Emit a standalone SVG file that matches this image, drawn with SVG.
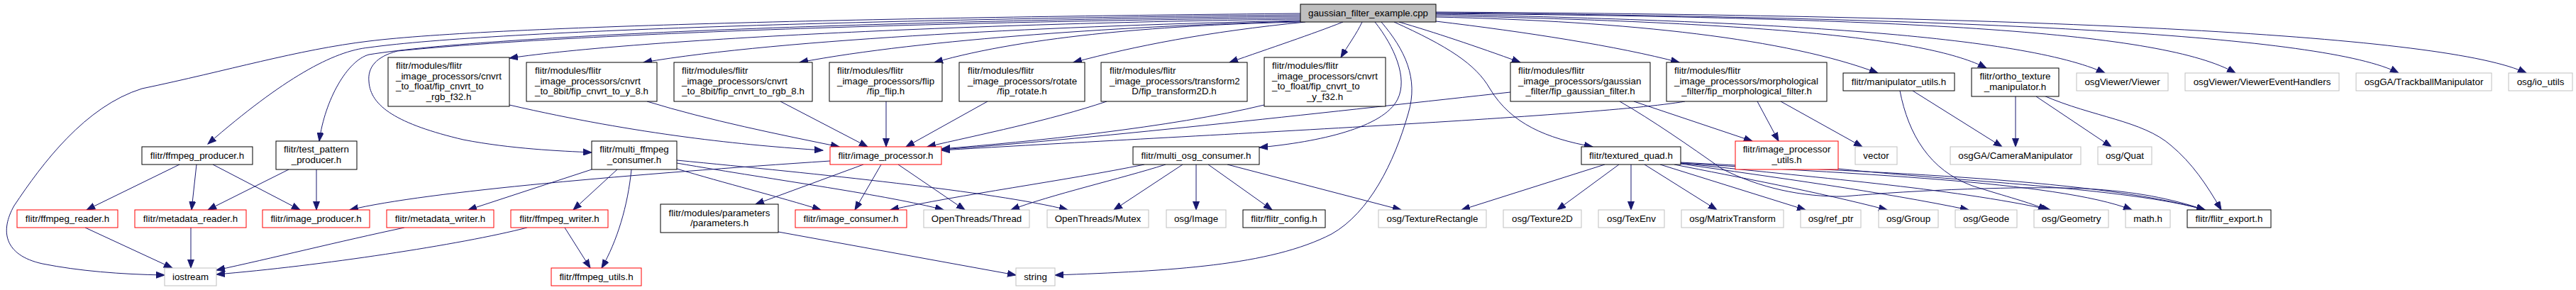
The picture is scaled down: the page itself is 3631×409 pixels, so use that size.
<svg xmlns="http://www.w3.org/2000/svg" width="3631" height="409" viewBox="0 0 3631 409">
<style>
rect{fill:#fff;stroke-width:1}
.doc{stroke:#000}
.red{stroke:#ff0000}
.ext{stroke:#bfbfbf}
.root{fill:#bfbfbf;stroke:#000}
text{font-family:"Liberation Sans",Arial,Helvetica,sans-serif;font-size:13.33px;fill:#000}
.c{text-anchor:middle}
.l{text-anchor:start}
#edges path{fill:none;stroke:#191970;stroke-width:1;marker-end:url(#arr)}
</style>
<defs>
<marker id="arr" markerUnits="userSpaceOnUse" markerWidth="13" markerHeight="10" refX="12" refY="5" orient="auto"><path d="M0,0.5 L12,5 L0,9.5 z" fill="#191970" stroke="#191970" stroke-width="1"/></marker>
</defs>
<rect x="0" y="0" width="3631" height="409" style="fill:#fff;stroke:none"/>
<g id="edges">
<path d="M1833,19 C1300,24 700,36 520,58 C420,70 320,100 200,125 C120,150 60,230 20,290 C0,325 5,360 60,372 C110,382 170,387 232,388"/>
<path d="M1833,21 C1300,26 700,42 520,67 C470,72 400,110 293,203"/>
<path d="M1833,23 C1300,28 700,48 520,77 C490,85 458,140 450,199"/>
<path d="M1833,25 C1300,31 800,48 560,72 C530,80 518,95 520,115 C522,150 560,175 653,197 C720,210 790,213 834,215"/>
<path d="M1833,27 C1400,32 900,55 718,82"/>
<path d="M1833,29 C1500,36 1100,55 907,88"/>
<path d="M1833,30 C1600,36 1300,55 1127,88"/>
<path d="M1833,31 C1650,35 1450,50 1317,88"/>
<path d="M1840,31 C1700,45 1600,65 1513,88"/>
<path d="M1893,31 C1850,48 1790,68 1733,88"/>
<path d="M1920,31 C1912,48 1900,64 1890,81"/>
<path d="M1938,31 C1965,65 1985,110 1970,140 C1950,180 1860,200 1775,208"/>
<path d="M1947,31 C1980,70 2000,110 1985,160 C1965,230 1930,300 1877,330 C1790,375 1650,382 1487,388"/>
<path d="M1965,31 C2040,65 2080,90 2100,125 C2130,175 2180,195 2245,207"/>
<path d="M1972,31 C2020,45 2080,65 2143,88"/>
<path d="M2024,30 C2150,45 2280,65 2367,88"/>
<path d="M2024,24 C2300,30 2520,55 2647,103"/>
<path d="M2024,22 C2500,32 2720,55 2800,96"/>
<path d="M2024,20 C2500,30 2850,50 2967,103"/>
<path d="M2024,19 C2700,25 3050,45 3151,103"/>
<path d="M2024,18 C2800,25 3280,50 3381,103"/>
<path d="M2024,17 C2900,22 3450,50 3561,103"/>
<path d="M253,232 L122,296"/>
<path d="M277,232 L270,296"/>
<path d="M300,232 L423,296"/>
<path d="M407,239 L293,296"/>
<path d="M446,239 L446,296"/>
<path d="M120,321 L243,378"/>
<path d="M269,321 L269,378"/>
<path d="M570,321 C480,340 380,365 305,381"/>
<path d="M743,321 C650,345 450,375 305,387"/>
<path d="M796,321 L832,378"/>
<path d="M834,239 L660,296"/>
<path d="M870,239 L808,296"/>
<path d="M890,239 C885,290 870,340 848,378"/>
<path d="M954,238 C1020,258 1100,278 1157,296"/>
<path d="M954,230 C1100,255 1250,275 1330,296"/>
<path d="M954,226 C1150,245 1400,270 1505,296"/>
<path d="M718,148 C900,190 1050,205 1160,212"/>
<path d="M912,143 C1000,170 1100,190 1183,207"/>
<path d="M1100,143 L1223,207"/>
<path d="M1249,143 L1249,207"/>
<path d="M1392,143 L1277,207"/>
<path d="M1560,143 C1480,170 1380,190 1307,207"/>
<path d="M1782,148 C1650,180 1450,200 1327,210"/>
<path d="M2129,130 C1900,155 1550,195 1327,211"/>
<path d="M2375,143 C2250,165 1600,195 1327,212"/>
<path d="M1170,227 C900,245 600,270 493,296"/>
<path d="M1217,232 L1065,288"/>
<path d="M1242,232 L1205,296"/>
<path d="M1266,232 L1360,296"/>
<path d="M1097,327 L1432,388"/>
<path d="M1613,232 C1500,255 1350,275 1255,296"/>
<path d="M1643,232 C1580,252 1480,275 1425,296"/>
<path d="M1667,232 L1570,296"/>
<path d="M1686,232 L1686,296"/>
<path d="M1703,232 L1793,296"/>
<path d="M1730,232 L1975,296"/>
<path d="M2262,232 L2060,296"/>
<path d="M2282,232 L2195,296"/>
<path d="M2299,232 L2299,296"/>
<path d="M2318,232 L2420,296"/>
<path d="M2340,232 L2545,296"/>
<path d="M2360,232 C2450,250 2560,270 2660,296"/>
<path d="M2369,231 C2500,250 2650,270 2775,296"/>
<path d="M2369,230 C2550,250 2750,265 2890,296"/>
<path d="M2369,230 C2600,245 2900,255 3005,296"/>
<path d="M2369,229 C2600,242 2950,250 3108,296"/>
<path d="M2591,238 C2750,255 3000,265 3108,296"/>
<path d="M2283,143 C2330,170 2380,205 2427,238 C2480,265 2540,278 2600,277 C2700,268 2850,262 2940,266 C3010,270 3060,280 3108,296"/>
<path d="M2303,143 L2470,199"/>
<path d="M2477,143 L2507,199"/>
<path d="M2510,143 L2625,207"/>
<path d="M2696,128 L2822,207"/>
<path d="M2678,128 C2690,190 2720,240 2780,262 C2830,278 2860,285 2885,296"/>
<path d="M2841,136 L2841,207"/>
<path d="M2870,136 L2976,207"/>
<path d="M2881,135 C2950,165 3020,170 3060,205 C3090,230 3110,260 3131,296"/>
</g>
<g id="node-root"><rect class="root" x="1833" y="6" width="191" height="25"/><text class="c" x="1928.5" y="22.5">gaussian_filter_example.cpp</text></g>
<g id="node-rgbf32"><rect class="doc" x="547" y="81" width="171" height="69"/><text class="l" x="558" y="97">flitr/modules/flitr</text><text class="l" x="558" y="111.5">_image_processors/cnvrt</text><text class="l" x="558" y="126">_to_float/fip_cnvrt_to</text><text class="c" x="632.5" y="140.5">_rgb_f32.h</text></g>
<g id="node-y8"><rect class="doc" x="742" y="88" width="184" height="55"/><text class="l" x="754" y="104">flitr/modules/flitr</text><text class="l" x="754" y="118.5">_image_processors/cnvrt</text><text class="c" x="834" y="133">_to_8bit/fip_cnvrt_to_y_8.h</text></g>
<g id="node-rgb8"><rect class="doc" x="950" y="88" width="195" height="55"/><text class="l" x="961" y="104">flitr/modules/flitr</text><text class="l" x="961" y="118.5">_image_processors/cnvrt</text><text class="c" x="1047.5" y="133">_to_8bit/fip_cnvrt_to_rgb_8.h</text></g>
<g id="node-flip"><rect class="doc" x="1169" y="88" width="159" height="55"/><text class="l" x="1180" y="104">flitr/modules/flitr</text><text class="l" x="1180" y="118.5">_image_processors/flip</text><text class="c" x="1248.5" y="133">/fip_flip.h</text></g>
<g id="node-rotate"><rect class="doc" x="1352" y="88" width="177" height="55"/><text class="l" x="1364" y="104">flitr/modules/flitr</text><text class="l" x="1364" y="118.5">_image_processors/rotate</text><text class="c" x="1440.5" y="133">/fip_rotate.h</text></g>
<g id="node-transform2d"><rect class="doc" x="1552" y="88" width="206" height="55"/><text class="l" x="1564" y="104">flitr/modules/flitr</text><text class="l" x="1564" y="118.5">_image_processors/transform2</text><text class="c" x="1655" y="133">D/fip_transform2D.h</text></g>
<g id="node-yf32"><rect class="doc" x="1782" y="81" width="171" height="69"/><text class="l" x="1793" y="97">flitr/modules/flitr</text><text class="l" x="1793" y="111.5">_image_processors/cnvrt</text><text class="l" x="1793" y="126">_to_float/fip_cnvrt_to</text><text class="c" x="1867.5" y="140.5">_y_f32.h</text></g>
<g id="node-gaussian"><rect class="doc" x="2129" y="88" width="197" height="55"/><text class="l" x="2140" y="104">flitr/modules/flitr</text><text class="l" x="2140" y="118.5">_image_processors/gaussian</text><text class="c" x="2227.5" y="133">_filter/fip_gaussian_filter.h</text></g>
<g id="node-morph"><rect class="doc" x="2349" y="88" width="226" height="55"/><text class="l" x="2360" y="104">flitr/modules/flitr</text><text class="l" x="2360" y="118.5">_image_processors/morphological</text><text class="c" x="2462" y="133">_filter/fip_morphological_filter.h</text></g>
<g id="node-manip"><rect class="doc" x="2598" y="103" width="157" height="25"/><text class="c" x="2676.5" y="119.5">flitr/manipulator_utils.h</text></g>
<g id="node-ortho"><rect class="doc" x="2779" y="96" width="123" height="40"/><text class="c" x="2840.5" y="112">flitr/ortho_texture</text><text class="c" x="2840.5" y="126.5">_manipulator.h</text></g>
<g id="node-viewer"><rect class="ext" x="2927" y="103" width="129" height="25"/><text class="c" x="2991.5" y="119.5">osgViewer/Viewer</text></g>
<g id="node-veh"><rect class="ext" x="3080" y="103" width="217" height="25"/><text class="c" x="3188.5" y="119.5">osgViewer/ViewerEventHandlers</text></g>
<g id="node-trackball"><rect class="ext" x="3321" y="103" width="191" height="25"/><text class="c" x="3416.5" y="119.5">osgGA/TrackballManipulator</text></g>
<g id="node-ioutils"><rect class="ext" x="3536" y="103" width="90" height="25"/><text class="c" x="3581" y="119.5">osg/io_utils</text></g>
<g id="node-ffprod"><rect class="doc" x="200" y="207" width="156" height="25"/><text class="c" x="278" y="223.5">flitr/ffmpeg_producer.h</text></g>
<g id="node-testpat"><rect class="doc" x="389" y="199" width="114" height="40"/><text class="c" x="446" y="215">flitr/test_pattern</text><text class="c" x="446" y="229.5">_producer.h</text></g>
<g id="node-mffc"><rect class="doc" x="834" y="199" width="120" height="40"/><text class="c" x="894" y="215">flitr/multi_ffmpeg</text><text class="c" x="894" y="229.5">_consumer.h</text></g>
<g id="node-improc"><rect class="red" x="1170" y="207" width="157" height="25"/><text class="c" x="1248.5" y="223.5">flitr/image_processor.h</text></g>
<g id="node-mosg"><rect class="doc" x="1597" y="207" width="178" height="25"/><text class="c" x="1686" y="223.5">flitr/multi_osg_consumer.h</text></g>
<g id="node-tquad"><rect class="doc" x="2229" y="207" width="140" height="25"/><text class="c" x="2299" y="223.5">flitr/textured_quad.h</text></g>
<g id="node-iputils"><rect class="red" x="2446" y="199" width="145" height="40"/><text class="c" x="2518.5" y="215">flitr/image_processor</text><text class="c" x="2518.5" y="229.5">_utils.h</text></g>
<g id="node-vector"><rect class="ext" x="2615" y="207" width="59" height="25"/><text class="c" x="2644.5" y="223.5">vector</text></g>
<g id="node-cammanip"><rect class="ext" x="2749" y="207" width="184" height="25"/><text class="c" x="2841" y="223.5">osgGA/CameraManipulator</text></g>
<g id="node-quat"><rect class="ext" x="2957" y="207" width="76" height="25"/><text class="c" x="2995" y="223.5">osg/Quat</text></g>
<g id="node-ffreader"><rect class="red" x="24" y="296" width="142" height="25"/><text class="c" x="95" y="312.5">flitr/ffmpeg_reader.h</text></g>
<g id="node-mdreader"><rect class="red" x="190" y="296" width="157" height="25"/><text class="c" x="268.5" y="312.5">flitr/metadata_reader.h</text></g>
<g id="node-improd"><rect class="red" x="370" y="296" width="151" height="25"/><text class="c" x="445.5" y="312.5">flitr/image_producer.h</text></g>
<g id="node-mdwriter"><rect class="red" x="545" y="296" width="151" height="25"/><text class="c" x="620.5" y="312.5">flitr/metadata_writer.h</text></g>
<g id="node-ffwriter"><rect class="red" x="720" y="296" width="137" height="25"/><text class="c" x="788.5" y="312.5">flitr/ffmpeg_writer.h</text></g>
<g id="node-params"><rect class="doc" x="931" y="288" width="166" height="40"/><text class="c" x="1014" y="304.5">flitr/modules/parameters</text><text class="c" x="1014" y="319">/parameters.h</text></g>
<g id="node-imcons"><rect class="red" x="1121" y="296" width="157" height="25"/><text class="c" x="1199.5" y="312.5">flitr/image_consumer.h</text></g>
<g id="node-thread"><rect class="ext" x="1302" y="296" width="149" height="25"/><text class="c" x="1376.5" y="312.5">OpenThreads/Thread</text></g>
<g id="node-mutex"><rect class="ext" x="1476" y="296" width="143" height="25"/><text class="c" x="1547.5" y="312.5">OpenThreads/Mutex</text></g>
<g id="node-osgimage"><rect class="ext" x="1644" y="296" width="84" height="25"/><text class="c" x="1686" y="312.5">osg/Image</text></g>
<g id="node-config"><rect class="doc" x="1752" y="296" width="116" height="25"/><text class="c" x="1810" y="312.5">flitr/flitr_config.h</text></g>
<g id="node-texrect"><rect class="ext" x="1943" y="296" width="152" height="25"/><text class="c" x="2019" y="312.5">osg/TextureRectangle</text></g>
<g id="node-tex2d"><rect class="ext" x="2119" y="296" width="110" height="25"/><text class="c" x="2174" y="312.5">osg/Texture2D</text></g>
<g id="node-texenv"><rect class="ext" x="2253" y="296" width="93" height="25"/><text class="c" x="2299.5" y="312.5">osg/TexEnv</text></g>
<g id="node-matrix"><rect class="ext" x="2370" y="296" width="144" height="25"/><text class="c" x="2442" y="312.5">osg/MatrixTransform</text></g>
<g id="node-refptr"><rect class="ext" x="2538" y="296" width="85" height="25"/><text class="c" x="2580.5" y="312.5">osg/ref_ptr</text></g>
<g id="node-group"><rect class="ext" x="2648" y="296" width="84" height="25"/><text class="c" x="2690" y="312.5">osg/Group</text></g>
<g id="node-geode"><rect class="ext" x="2756" y="296" width="87" height="25"/><text class="c" x="2799.5" y="312.5">osg/Geode</text></g>
<g id="node-geometry"><rect class="ext" x="2867" y="296" width="105" height="25"/><text class="c" x="2919.5" y="312.5">osg/Geometry</text></g>
<g id="node-math"><rect class="ext" x="2996" y="296" width="63" height="25"/><text class="c" x="3027.5" y="312.5">math.h</text></g>
<g id="node-export"><rect class="doc" x="3083" y="296" width="118" height="25"/><text class="c" x="3142" y="312.5">flitr/flitr_export.h</text></g>
<g id="node-iostream"><rect class="ext" x="232" y="378" width="73" height="25"/><text class="c" x="268.5" y="394.5">iostream</text></g>
<g id="node-ffutils"><rect class="red" x="777" y="378" width="127" height="25"/><text class="c" x="840.5" y="394.5">flitr/ffmpeg_utils.h</text></g>
<g id="node-string"><rect class="ext" x="1432" y="378" width="55" height="25"/><text class="c" x="1459.5" y="394.5">string</text></g>
</svg>
